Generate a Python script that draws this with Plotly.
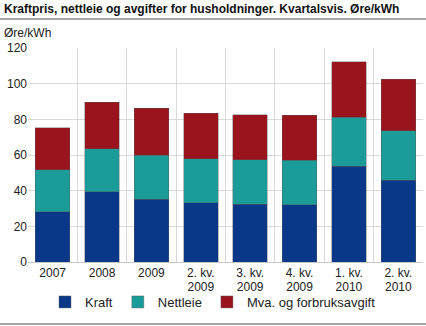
import plotly.graph_objects as go

categories = ["2007", "2008", "2009", "2. kv. 2009", "3. kv. 2009",
              "4. kv. 2009", "1. kv. 2010", "2. kv. 2010"]
label_line1 = ["2007", "2008", "2009", "2. kv.", "3. kv.", "4. kv.", "1. kv.", "2. kv."]
label_line2 = ["", "", "", "2009", "2009", "2009", "2010", "2010"]
kraft = [28.2, 39.4, 35.3, 33.3, 32.5, 32.1, 53.8, 45.8]
nettleie = [23.4, 24.0, 24.7, 24.6, 24.7, 24.9, 27.5, 27.7]
mva = [23.7, 26.2, 26.2, 25.5, 25.4, 25.3, 31.0, 29.0]
series_names = ["Kraft", "Nettleie", "Mva. og forbruksavgift"]
colors = ["#083887", "#1b9c98", "#9a141d"]
y_ticks = [0, 20, 40, 60, 80, 100, 120]

W, H = 426, 326
L, R, T, B = 28, 3, 48, 64
pw = W - L - R
ph = H - T - B

def px_x(p):
    return (p - L) / pw

def px_y(p):
    return (H - B - p) / ph

fig = go.Figure()
for name, vals, col in zip(series_names, [kraft, nettleie, mva], colors):
    fig.add_trace(go.Bar(
        x=categories, y=vals, name=name,
        marker=dict(color=col, line=dict(color="rgba(90,90,90,0.5)", width=0.8)),
    ))
# invisible helper trace so the second-line label axis is drawn
fig.add_trace(go.Scatter(x=categories, y=[None] * len(categories), xaxis="x2",
                         mode="markers", showlegend=False, hoverinfo="skip"))

font = "Liberation Sans, Arial, sans-serif"
tickfont = dict(size=12, color="#222222")
fig.update_layout(
    barmode="stack",
    bargap=0.3,
    width=W, height=H,
    margin=dict(l=L, r=R, t=T, b=B, pad=0),
    paper_bgcolor="white", plot_bgcolor="white",
    font=dict(family=font, size=12, color="#222222"),
    showlegend=True,
    legend=dict(orientation="h", x=px_x(213), xanchor="center",
                y=px_y(302), yanchor="middle", bgcolor="rgba(0,0,0,0)",
                font=dict(size=13, color="#222222"),
                itemwidth=30, traceorder="normal", tracegroupgap=0),
    xaxis=dict(type="category", categoryorder="array", categoryarray=categories,
               tickson="boundaries", showgrid=True,
               gridcolor="#d9d9d9", gridwidth=1, ticks="", showline=True,
               linecolor="#c8c8c8", linewidth=1,
               tickvals=categories, ticktext=label_line1, tickfont=tickfont),
    xaxis2=dict(type="category", categoryorder="array", categoryarray=categories,
                overlaying="x", matches="x", anchor="y", side="bottom",
                showgrid=False, ticks="", showline=False, zeroline=False,
                tickvals=categories, ticktext=label_line2, tickfont=tickfont,
                ticklabelstandoff=16),
    yaxis=dict(range=[0, 120], tickvals=y_ticks, showgrid=True,
               gridcolor="#d9d9d9", gridwidth=1, zeroline=False,
               ticks="", ticklen=0, tickfont=tickfont, showline=False),
    annotations=[
        dict(text="<b>Kraftpris, nettleie og avgifter for husholdninger. Kvartalsvis. Øre/kWh</b>",
             xref="paper", yref="paper", x=px_x(2), y=px_y(9),
             xanchor="left", yanchor="middle", showarrow=False,
             font=dict(size=12, color="#111111")),
        dict(text="Øre/kWh", xref="paper", yref="paper", x=px_x(2), y=px_y(33),
             xanchor="left", yanchor="middle", showarrow=False,
             font=dict(size=12, color="#222222")),
    ],
    shapes=[
        dict(type="line", xref="paper", yref="paper", x0=px_x(0), x1=px_x(W),
             y0=px_y(19), y1=px_y(19), line=dict(color="#a6a6a6", width=2)),
        dict(type="line", xref="paper", yref="paper", x0=px_x(0), x1=px_x(W),
             y0=px_y(324), y1=px_y(324), line=dict(color="#a6a6a6", width=2)),
    ],
)

fig.write_html("out.html")
